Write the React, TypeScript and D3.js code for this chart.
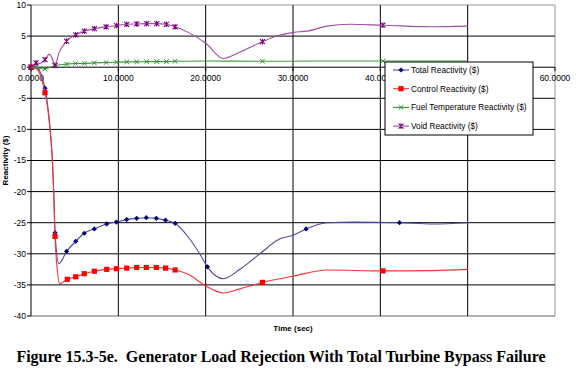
import React from 'react';
import * as d3 from 'd3';

// time (sec), reactivity ($)
const totalLine: [number, number][] = [
  [0, 0], [0.57, 0.1], [1.0, -0.6], [1.6, -3.4], [1.9, -6], [2.2, -10], [2.45, -15], [2.6, -20],
  [2.75, -26.6], [3.2, -31.6], [4.08, -29.6], [5.12, -28.0], [6.1, -26.7], [7.25, -26.0],
  [8.67, -25.2], [9.78, -24.9], [10.96, -24.5], [12.1, -24.3], [13.2, -24.2], [14.35, -24.3],
  [15.4, -24.6], [16.5, -25.1], [18, -27.3], [19.4, -30.2], [20.2, -32.1], [22.0, -34.0],
  [24, -32.4], [26.2, -30.0], [28.5, -27.6], [30.0, -27.0], [31.5, -26.0], [33.9, -25.0],
  [37, -24.9], [42.2, -25.0], [46, -25.2], [50, -25.0]
];
const totalMarks: [number, number][] = [
  [0, 0], [1.6, -3.4], [2.75, -26.6], [4.08, -29.6], [5.12, -28.0], [6.1, -26.7], [7.25, -26.0],
  [8.67, -25.2], [9.78, -24.9], [10.96, -24.5], [12.1, -24.3], [13.2, -24.2], [14.35, -24.3],
  [15.4, -24.6], [16.5, -25.1], [20.2, -32.1], [31.5, -26.0], [42.2, -25.0]
];

const controlLine: [number, number][] = [
  [0, 0], [0.57, -0.2], [1.0, -1], [1.6, -4.1], [1.9, -6.5], [2.2, -10.5], [2.45, -15], [2.6, -20],
  [2.75, -27.2], [3.0, -32.5], [3.3, -34.8], [4.16, -34.1], [5.12, -33.7], [6.1, -33.2],
  [7.25, -32.8], [8.67, -32.5], [9.78, -32.4], [10.96, -32.3], [12.1, -32.2], [13.2, -32.2],
  [14.35, -32.2], [15.4, -32.3], [16.5, -32.6], [18, -33.3], [20.05, -35.2], [22.0, -36.3],
  [24, -35.6], [26.5, -34.6], [28.5, -34.0], [30.05, -33.6], [33.9, -32.6], [40.3, -32.75],
  [46, -32.7], [50, -32.5]
];
const controlMarks: [number, number][] = [
  [0, 0], [1.6, -4.1], [2.75, -27.2], [4.16, -34.1], [5.12, -33.7], [6.1, -33.2], [7.25, -32.8],
  [8.67, -32.5], [9.78, -32.4], [10.96, -32.3], [12.1, -32.2], [13.2, -32.2], [14.35, -32.2],
  [15.4, -32.3], [16.5, -32.6], [26.5, -34.6], [40.3, -32.75]
];

const fuelLine: [number, number][] = [
  [0, 0], [0.57, 0], [1.0, -0.2], [1.6, -0.3], [2.2, 0], [2.75, 0.25], [3.3, 0.4], [4.08, 0.5],
  [5.12, 0.6], [6.1, 0.6], [7.25, 0.7], [8.6, 0.75], [9.8, 0.8], [10.96, 0.85], [12.1, 0.85],
  [13.25, 0.9], [14.4, 0.9], [15.5, 0.9], [16.5, 0.95], [20.5, 1.0], [26.5, 0.95], [33, 1.0],
  [40.3, 1.0], [50, 1.0]
];
const fuelMarks: [number, number][] = [
  [0, 0], [0.57, 0], [1.6, -0.3], [2.75, 0.25], [4.08, 0.5], [5.12, 0.6], [6.1, 0.6], [7.25, 0.7],
  [8.6, 0.75], [9.8, 0.8], [10.96, 0.85], [12.1, 0.85], [13.25, 0.9], [14.4, 0.9], [15.5, 0.9],
  [16.5, 0.95], [26.5, 0.95], [40.3, 1.0]
];

const voidLine: [number, number][] = [
  [0, 0], [0.3, 0.3], [0.57, 0.7], [1.0, 0.6], [1.6, 1.2], [2.1, 2.1], [2.4, 1.5], [2.75, 0.3],
  [3.2, 2.3], [4.08, 4.2], [5.12, 5.2], [6.1, 5.8], [7.25, 6.2], [8.6, 6.5], [9.8, 6.7],
  [10.96, 6.9], [12.1, 6.95], [13.25, 7.0], [14.4, 7.0], [15.5, 6.9], [16.5, 6.5], [18, 5.6],
  [20.05, 3.8], [22, 1.4], [24, 2.5], [26.5, 4.1], [28.1, 5.0], [30.05, 5.6], [31.6, 5.8],
  [33.9, 6.6], [36.5, 6.9], [40.3, 6.75], [46, 6.5], [50, 6.6]
];
const voidMarks: [number, number][] = [
  [0, 0], [0.57, 0.7], [1.6, 1.2], [2.75, 0.3], [4.08, 4.2], [5.12, 5.2], [6.1, 5.8], [7.25, 6.2],
  [8.6, 6.5], [9.8, 6.7], [10.96, 6.9], [12.1, 6.95], [13.25, 7.0], [14.4, 7.0], [15.5, 6.9],
  [16.5, 6.5], [26.5, 4.1], [40.3, 6.75]
];

const xTicks = [0, 10, 20, 30, 40, 50, 60];
// the 50.0000 label sits under the legend box in the original
const xTickLabels = [0, 10, 20, 30, 40, 60];
const yTicks = [10, 5, 0, -5, -10, -15, -20, -25, -30, -35, -40];

const legendNames = [
  'Total Reactivity ($)',
  'Control Reactivity ($)',
  'Fuel Temperature Reactivity ($)',
  'Void Reactivity ($)'
];

const caption = 'Figure 15.3-5e.\u00a0 Generator Load Rejection With Total Turbine Bypass Failure';

const W = 576;
const H = 368;

const x = d3.scaleLinear().domain([0, 60]).range([31, 555]);
const y = d3.scaleLinear().domain([-40, 10]).range([316, 5]);

const line = d3.line<[number, number]>()
  .x(d => x(d[0]))
  .y(d => y(d[1]))
  .curve(d3.curveMonotoneX);

type Kind = 'diamond' | 'square' | 'cross' | 'star';

const Marker: React.FC<{ kind: Kind; cx: number; cy: number; color: string }> = ({ kind, cx, cy, color }) => {
  if (kind === 'diamond') {
    return <path d={`M${cx},${cy - 2.6}L${cx + 2.6},${cy}L${cx},${cy + 2.6}L${cx - 2.6},${cy}Z`} fill={color} />;
  }
  if (kind === 'square') {
    return <rect x={cx - 2.6} y={cy - 2.6} width={5.2} height={5.2} fill={color} />;
  }
  if (kind === 'cross') {
    return <path d={`M${cx - 2.3},${cy - 2.3}L${cx + 2.3},${cy + 2.3}M${cx - 2.3},${cy + 2.3}L${cx + 2.3},${cy - 2.3}`} stroke={color} strokeWidth={1} fill="none" />;
  }
  return (
    <path
      d={`M${cx - 2.5},${cy - 2.5}L${cx + 2.5},${cy + 2.5}M${cx - 2.5},${cy + 2.5}L${cx + 2.5},${cy - 2.5}M${cx},${cy - 2.8}L${cx},${cy + 2.8}`}
      stroke={color} strokeWidth={1.1} fill="none"
    />
  );
};

const series = [
  { name: legendNames[0], line: totalLine, marks: totalMarks, stroke: '#4a4a9e', mark: '#000080', kind: 'diamond' as Kind },
  { name: legendNames[1], line: controlLine, marks: controlMarks, stroke: '#ff3333', mark: '#ff0000', kind: 'square' as Kind },
  { name: legendNames[2], line: fuelLine, marks: fuelMarks, stroke: '#3a9a3a', mark: '#2e8b2e', kind: 'cross' as Kind },
  { name: legendNames[3], line: voidLine, marks: voidMarks, stroke: '#a050a0', mark: '#800080', kind: 'star' as Kind }
];

const App: React.FC = () => {
  const y0 = y(0);
  const font = 'Arial, "Liberation Sans", sans-serif';
  return (
    <svg width={W} height={H} style={{ position: 'absolute', left: 0, top: 0, background: '#fff' }}>
      <rect width={W} height={H} fill="#fff" />
      {/* plot border */}
      <line x1={x(0)} x2={x(60)} y1={y(10)} y2={y(10)} stroke="#999" />
      <line x1={x(60)} x2={x(60)} y1={y(10)} y2={y(-40)} stroke="#999" />
      {/* grid */}
      {yTicks.filter(t => t !== 10).map(t => (
        <line key={'h' + t} x1={x(0)} x2={x(60)} y1={y(t)} y2={y(t)} stroke={t === -40 ? '#666' : '#000'} strokeWidth={1} />
      ))}
      {xTicks.filter(t => t !== 0 && t !== 60).map(t => (
        <line key={'v' + t} x1={x(t)} x2={x(t)} y1={y(10)} y2={y(-40)} stroke="#000" strokeWidth={1} />
      ))}
      {/* y axis */}
      <line x1={x(0)} x2={x(0)} y1={y(10)} y2={y(-40)} stroke="#000" />
      {yTicks.map(t => (
        <g key={'yt' + t}>
          <line x1={x(0) - 4} x2={x(0)} y1={y(t)} y2={y(t)} stroke="#000" />
          <text x={x(0) - 5} y={y(t)} dy="0.35em" textAnchor="end" fontSize={8.5} fontFamily={font} fill="#000">{t}</text>
        </g>
      ))}
      {/* x axis at zero */}
      {xTicks.map(t => (
        <line key={'xt' + t} x1={x(t)} x2={x(t)} y1={y0} y2={y0 + 4} stroke="#000" />
      ))}
      {xTickLabels.map(t => (
        <text key={'xl' + t} x={x(t)} y={y0 + 14} textAnchor="middle" fontSize={8.5} fontFamily={font} fill="#000">{t.toFixed(4)}</text>
      ))}
      {/* series */}
      {series.map(s => (
        <g key={s.name}>
          <path d={line(s.line) || ''} fill="none" stroke={s.stroke} strokeWidth={1.1} />
          {s.marks.map((p, i) => (
            <Marker key={i} kind={s.kind} cx={x(p[0])} cy={y(p[1])} color={s.mark} />
          ))}
        </g>
      ))}
      {/* legend */}
      <g transform="translate(385,62)">
        <rect x={0} y={0} width={148} height={73} fill="#fff" stroke="#000" strokeWidth={1} />
        {series.map((s, i) => (
          <g key={'lg' + i} transform={`translate(0,${8 + i * 18.7})`}>
            <line x1={8} x2={24} y1={0} y2={0} stroke={s.stroke} strokeWidth={1.1} />
            <Marker kind={s.kind} cx={16} cy={0} color={s.mark} />
            <text x={26} y={0} dy="0.35em" fontSize={8.3} fontFamily={font} fill="#000">{s.name}</text>
          </g>
        ))}
      </g>
      {/* axis titles */}
      <text x={x(30)} y={331} textAnchor="middle" fontSize={8} fontWeight="bold" fontFamily={font} fill="#000">Time (sec)</text>
      <text transform={`translate(8,${(y(10) + y(-40)) / 2}) rotate(-90)`} textAnchor="middle" fontSize={8} fontWeight="bold" fontFamily={font} fill="#000">Reactivity ($)</text>
      {/* caption */}
      <text x={281} y={362} textAnchor="middle" fontSize={16} fontWeight="bold" fontFamily='"Liberation Serif", "Times New Roman", serif' fill="#000">
        {caption}
      </text>
    </svg>
  );
};

export default App;
